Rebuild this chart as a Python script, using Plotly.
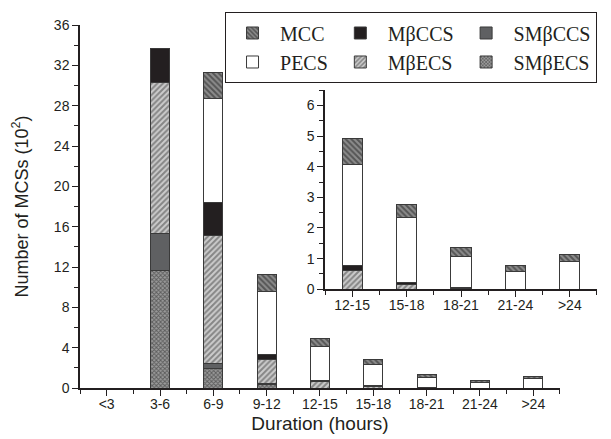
import plotly.graph_objects as go

categories = ["<3", "3-6", "6-9", "9-12", "12-15", "15-18", "18-21", "21-24", ">24"]
smbecs = [0, 11.7, 1.9, 0.30, 0.0, 0.0, 0.0, 0, 0]
smbccs = [0, 3.6, 0.5, 0.15, 0.0, 0.0, 0.0, 0, 0]
mbecs = [0, 15.0, 12.7, 2.35, 0.60, 0.17, 0.02, 0, 0]
mbccs = [0, 3.4, 3.3, 0.50, 0.18, 0.06, 0.03, 0, 0]
pecs = [0, 0, 10.3, 6.3, 3.29, 2.12, 1.03, 0.57, 0.91]
mcc = [0, 0, 2.6, 1.7, 0.84, 0.43, 0.28, 0.21, 0.22]

inset_start = 4

# (name, values, marker, legend rank, legend column)
series = [
    ("SMβECS", smbecs, dict(color="#7a7a7a", pattern=dict(shape="x", fgcolor="#1e1e1e", bgcolor="#9a9a9a", size=3, solidity=0.5)), 6, "c"),
    ("SMβCCS", smbccs, dict(color="#5f6062"), 5, "c"),
    ("MβECS", mbecs, dict(color="#c4c4c4", pattern=dict(shape="/", fgcolor="#404040", bgcolor="#cccccc", size=4, solidity=0.5)), 4, "b"),
    ("MβCCS", mbccs, dict(color="#231f20"), 3, "b"),
    ("PECS", pecs, dict(color="#ffffff"), 2, "a"),
    ("MCC", mcc, dict(color="#7a7a7a", pattern=dict(shape="\\", fgcolor="#1e1e1e", bgcolor="#8c8c8c", size=4, solidity=0.5)), 1, "a"),
]

xidx = list(range(len(categories)))
fig = go.Figure()
for name, vals, mk, rank, grp in series:
    m = dict(mk)
    m["line"] = dict(color="#3a3a3a", width=1)
    fig.add_trace(go.Bar(x=xidx, y=vals, name=name, marker=m, width=0.36,
                         legendrank=rank, legendgroup=grp, xaxis="x", yaxis="y"))
for name, vals, mk, rank, grp in series:
    m = dict(mk)
    m["line"] = dict(color="#3a3a3a", width=1)
    fig.add_trace(go.Bar(x=xidx[inset_start:], y=vals[inset_start:], name=name, marker=m,
                         width=0.37, showlegend=False, legendgroup=grp, xaxis="x2", yaxis="y2"))

axcol = "#231f20"
tickfont = dict(family="Liberation Sans, Arial", size=14, color=axcol)
common = dict(showline=True, linecolor=axcol, linewidth=1.5, ticks="outside", ticklen=6,
              tickwidth=1.2, tickcolor=axcol, showgrid=False, zeroline=False,
              tickfont=tickfont, automargin=False)

fig.update_layout(
    width=611, height=439,
    margin=dict(l=80, r=14, t=24, b=51),
    barmode="stack",
    paper_bgcolor="white", plot_bgcolor="white",
    font=dict(family="Liberation Sans, Arial", color=axcol),
    xaxis=dict(domain=[0, 0.9284], range=[-0.5, 8.5], tickmode="array", tickvals=xidx,
               ticktext=categories, ticklabelstandoff=-4,
               minor=dict(dtick=0.5, tick0=-0.5, ticks="outside", ticklen=4, tickcolor=axcol, tickwidth=1.2),
               title=dict(text="Duration (hours)", font=dict(size=19, color=axcol), standoff=6),
               **common),
    yaxis=dict(domain=[0, 1], range=[0, 36], dtick=4,
               minor=dict(dtick=2, ticks="outside", ticklen=4, tickcolor=axcol, tickwidth=1.2),
               title=dict(text="Number of MCSs (10<sup>2</sup>)", font=dict(size=18, color=axcol), standoff=21),
               **common),
    xaxis2=dict(domain=[0.4739, 1.0], anchor="y2", range=[inset_start - 0.5, len(categories) - 0.5],
                tickmode="array", tickvals=xidx[inset_start:], ticktext=categories[inset_start:],
                ticklabelstandoff=-4,
                minor=dict(dtick=0.5, tick0=-0.5, ticks="outside", ticklen=4, tickcolor=axcol, tickwidth=1.2),
                **common),
    yaxis2=dict(domain=[0.272, 0.8206], anchor="x2", range=[0, 6.5], dtick=1,
                minor=dict(dtick=0.5, ticks="outside", ticklen=4, tickcolor=axcol, tickwidth=1.2),
                **common),
    legend=dict(orientation="h", x=0.2805, y=1.035,
                xanchor="left", yanchor="top",
                bgcolor="white", bordercolor=axcol, borderwidth=1.2,
                font=dict(family="Liberation Serif, Times New Roman", size=20, color=axcol),
                itemwidth=45, traceorder="grouped", tracegroupgap=10),
)

fig.write_html(
    "out.html",
    post_script="var gd = document.getElementById('{plot_id}'); return Plotly.relayout(gd, {'legend.x': 0.2805});",
)
